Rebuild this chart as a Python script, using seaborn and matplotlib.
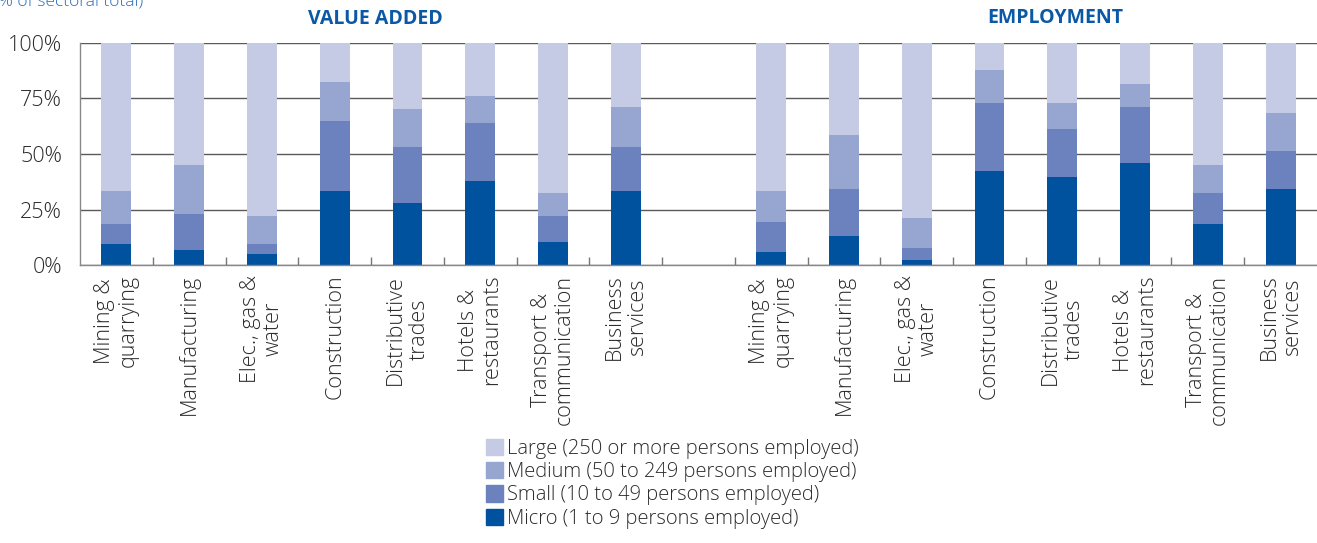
import matplotlib
matplotlib.use("Agg")
import matplotlib.pyplot as plt
import matplotlib.patches as mpatches
from matplotlib.ticker import FixedLocator
import numpy as np
import pandas as pd
import seaborn as sns

# Sectors (same list for both panels)
sectors = [
    "Mining &\nquarrying", "Manufacturing", "Elec., gas &\nwater", "Construction",
    "Distributive\ntrades", "Hotels &\nrestaurants", "Transport &\ncommunication",
    "Business\nservices",
]

# Shares of sectoral total (%) by enterprise size class
va_micro = [9.4, 6.7, 4.9, 33.5, 28.1, 37.9, 10.3, 33.5]
va_small = [8.9, 16.1, 4.5, 31.2, 25.0, 25.9, 11.6, 19.6]
va_medium = [15.2, 22.3, 12.5, 17.9, 17.0, 12.5, 10.7, 17.9]
va_large = [66.5, 54.9, 78.1, 17.4, 29.9, 23.7, 67.4, 29.0]

emp_micro = [5.8, 12.9, 2.2, 42.4, 39.7, 46.0, 18.3, 34.4]
emp_small = [13.4, 21.5, 5.4, 30.4, 21.5, 25.0, 14.3, 16.9]
emp_medium = [14.3, 24.1, 13.4, 15.1, 11.6, 10.7, 12.5, 17.0]
emp_large = [66.5, 41.5, 79.0, 12.1, 27.2, 18.3, 54.9, 31.7]

size_classes = ["Micro (1 to 9 persons employed)", "Small (10 to 49 persons employed)",
                "Medium (50 to 249 persons employed)", "Large (250 or more persons employed)"]
colors = ["#00529F", "#6B82BE", "#96A6D1", "#C5CAE5"]

# Category keys: value added block, an empty gap slot, employment block
keys = [f"va{i}" for i in range(8)] + ["gap"] + [f"emp{i}" for i in range(8)]
labels = sectors + [""] + sectors

va_layers = [va_micro, va_small, va_medium, va_large]
emp_layers = [emp_micro, emp_small, emp_medium, emp_large]

rows = []
for cls, va_vals, emp_vals in zip(size_classes, va_layers, emp_layers):
    for i in range(8):
        rows.append({"key": f"va{i}", "size": cls, "share": va_vals[i]})
        rows.append({"key": f"emp{i}", "size": cls, "share": emp_vals[i]})
df = pd.DataFrame(rows)
df["size"] = pd.Categorical(df["size"], categories=size_classes, ordered=True)
df = df.sort_values(["key", "size"])
df["top"] = df.groupby("key")["share"].cumsum()

sns.set_theme(style="white")
plt.rcParams["font.family"] = ["Open Sans", "DejaVu Sans"]

fig = plt.figure(figsize=(13.17, 5.43), dpi=100)
ax = fig.add_axes([80 / 1317, 1 - 265 / 543, 1 - 80 / 1317, (265 - 43) / 543])

# Stacked bars: draw cumulative tops from the largest class down
for cls, col in reversed(list(zip(size_classes, colors))):
    sub = df[df["size"] == cls]
    sns.barplot(data=sub, x="key", y="top", order=keys, color=col, width=0.41,
                saturation=1, linewidth=0, errorbar=None, ax=ax, zorder=2)

text_color = "#2b2b2b"
ax.set_xlim(-0.5, len(keys) - 0.5)
ax.set_ylim(0, 100)
ax.set_yticks([0, 25, 50, 75, 100])
ax.set_yticklabels(["0%", "25%", "50%", "75%", "100%"], fontsize=15.5,
                   color=text_color, fontweight="light")
ax.set_xticks(range(len(keys)))
ax.set_xticklabels(labels, rotation=90, fontsize=15.5, color=text_color, fontweight="light",
                   multialignment="center", va="top", ha="center", linespacing=1.15)
ax.xaxis.set_minor_locator(FixedLocator(np.arange(0.5, len(keys) - 1, 1.0)))
ax.tick_params(axis="x", which="major", length=0, pad=7)
ax.tick_params(axis="x", which="minor", direction="in", length=6, width=1, color="#777777", bottom=True)
ax.tick_params(axis="y", length=0, pad=13)
ax.set_xlabel("")
ax.set_ylabel("")

ax.set_axisbelow(True)
ax.yaxis.grid(True, color="#5a5a5a", linewidth=1.0)
ax.xaxis.grid(False)
for side in ["top", "right"]:
    ax.spines[side].set_visible(False)
for side in ["left", "bottom"]:
    ax.spines[side].set_color("#888888")
    ax.spines[side].set_linewidth(1.0)

title_color = "#0A58A6"
fig.text(375 / 1317, 1 - 19 / 543, "VALUE ADDED", ha="center", va="center",
         fontsize=14, fontweight="bold", color=title_color)
fig.text(1055 / 1317, 1 - 18 / 543, "EMPLOYMENT", ha="center", va="center",
         fontsize=14, fontweight="bold", color=title_color)
fig.text(-6 / 1317, 1 - 2 / 543, "(% of sectoral total)", ha="left", va="center",
         fontsize=12.5, color="#2A6EBB", fontweight="light")

handles = [mpatches.Patch(color=c, label=l) for c, l in zip(colors, size_classes)][::-1]
fig.legend(handles=handles, loc="upper left", bbox_to_anchor=(486 / 1317, 1 - 439 / 543),
           frameon=False, handlelength=0.85, handleheight=0.85,
           handletextpad=0.2, labelspacing=0.16, borderpad=0, borderaxespad=0,
           labelcolor=text_color, prop={"size": 14.5, "weight": "light"})

fig.savefig("out.png", dpi=100)
